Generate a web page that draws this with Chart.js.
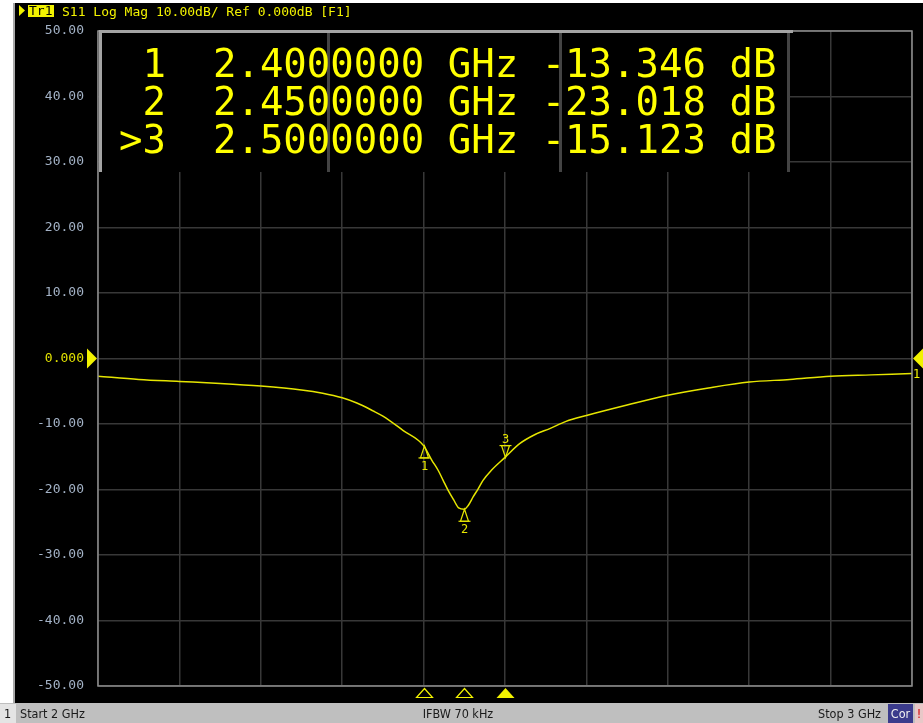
<!DOCTYPE html>
<html>
<head>
<meta charset="utf-8">
<script src="https://cdn.jsdelivr.net/npm/chart.js@4"></script>
<style>
  html, body { margin: 0; padding: 0; background: #fff; }
  canvas { display: block; }
</style>
</head>
<body>
<canvas id="vnaChart" width="923" height="723"></canvas>
<script>
// trace S11 (GHz / dB)
const freqGHz = [2.000, 2.050, 2.100, 2.150, 2.200, 2.250, 2.276, 2.300, 2.318, 2.338,
                 2.350, 2.375, 2.400, 2.410, 2.418, 2.424, 2.430, 2.437, 2.443, 2.450,
                 2.455, 2.461, 2.467, 2.473, 2.483, 2.500, 2.518, 2.537, 2.555, 2.575,
                 2.600, 2.650, 2.700, 2.750, 2.800, 2.850, 2.900, 2.950, 3.000];
const s11dB = [-2.7, -3.2, -3.5, -3.8, -4.2, -4.8, -5.3, -6.0, -6.8, -8.0,
               -8.8, -11.0, -13.3, -15.5, -17.1, -18.6, -20.1, -21.6, -22.8, -23.0,
               -22.4, -21.1, -19.9, -18.6, -17.1, -15.1, -13.0, -11.6, -10.7, -9.6,
               -8.7, -7.1, -5.6, -4.5, -3.6, -3.2, -2.7, -2.5, -2.3];

// markers
const markerNames = ['1', '2', '3'];
const markerFreq = [2.40, 2.45, 2.50];
const markerVal = [-13.346, -23.018, -15.123];
const activeMarker = 2;

// axis
const yMin = -50, yMax = 50, yStep = 10;
const xMin = 2, xMax = 3, xStep = 0.1;

const headerText = 'S11 Log Mag 10.00dB/ Ref 0.000dB [F1]';
const statusStart = 'Start 2 GHz';
const statusIfbw = 'IFBW 70 kHz';
const statusStop = 'Stop 3 GHz';

const YELLOW = '#f2f200';
const mono = '"DejaVu Sans Mono", monospace';

const ctx = document.getElementById('vnaChart').getContext('2d');

function tri(c, x1, y1, x2, y2, x3, y3, fill) {
    c.beginPath();
    c.moveTo(x1, y1); c.lineTo(x2, y2); c.lineTo(x3, y3); c.closePath();
    if (fill) c.fill(); else c.stroke();
}

const screenPlugin = {
    id: 'screen',
    beforeDraw(chart) {
        const c = chart.ctx;
        c.save();
        c.fillStyle = '#ffffff';
        c.fillRect(0, 0, 923, 723);
        c.fillStyle = '#000000';
        c.fillRect(15, 3, 908, 700);
        c.fillStyle = '#a8a8a8';
        c.fillRect(13, 3, 2, 700);

        // header
        c.fillStyle = YELLOW;
        tri(c, 19, 5, 25, 10.5, 19, 16, true);
        c.fillRect(28, 5, 26, 12);
        c.font = '13px ' + mono;
        c.textBaseline = 'alphabetic';
        c.fillStyle = '#000';
        c.fillText('Tr1', 29, 15);
        c.fillStyle = YELLOW;
        c.fillText(headerText, 62, 16);

        // status bar
        c.fillStyle = '#bfbfbf';
        c.fillRect(0, 703, 923, 20);
        c.fillStyle = '#e4e4e4';
        c.fillRect(0, 704, 16, 19);
        c.fillStyle = '#1a1a1a';
        c.font = '12.5px "DejaVu Sans Condensed", "DejaVu Sans", sans-serif';
        c.fillText('1', 4, 718);
        c.fillText(statusStart, 20, 718);
        c.textAlign = 'center';
        c.fillText(statusIfbw, 458, 718);
        c.textAlign = 'right';
        c.fillText(statusStop, 881, 718);
        c.fillStyle = '#3b3b8c';
        c.fillRect(888, 704, 25, 19);
        c.fillStyle = '#f0f0f0';
        c.textAlign = 'center';
        c.fillText('Cor', 900.5, 718);
        c.fillStyle = '#e8c8c8';
        c.fillRect(915, 704, 8, 19);
        c.fillStyle = '#d00000';
        c.fillText('!', 919, 718);
        c.restore();
    },
    afterDatasetsDraw(chart) {
        const c = chart.ctx;
        const xs = chart.scales.x, ys = chart.scales.y;
        const a = chart.chartArea;
        c.save();
        c.strokeStyle = '#e6e600';
        c.fillStyle = '#e6e600';
        c.lineWidth = 1.2;
        c.font = '12px ' + mono;
        c.textAlign = 'center';
        markerFreq.forEach((f, i) => {
            const px = Math.round(xs.getPixelForValue(f)) + 0.5;
            const py = ys.getPixelForValue(markerVal[i]);
            if (i === activeMarker) {
                tri(c, px, py, px - 4, py - 12, px + 4, py - 12, false);
                c.beginPath(); c.moveTo(px - 6, py - 12); c.lineTo(px + 6, py - 12); c.stroke();
                c.fillText(markerNames[i], px, py - 15);
            } else {
                tri(c, px, py, px - 4, py + 12, px + 4, py + 12, false);
                c.beginPath(); c.moveTo(px - 6, py + 12); c.lineTo(px + 6, py + 12); c.stroke();
                c.fillText(markerNames[i], px, py + 24);
            }
            // stimulus markers below the grid
            c.fillStyle = YELLOW;
            c.strokeStyle = YELLOW;
            if (i === activeMarker) tri(c, px, a.bottom + 2, px - 9, a.bottom + 12, px + 9, a.bottom + 12, true);
            else tri(c, px, a.bottom + 2.5, px - 8, a.bottom + 11.5, px + 8, a.bottom + 11.5, false);
            c.strokeStyle = '#e6e600';
            c.fillStyle = '#e6e600';
        });

        // reference level arrows
        const ry = ys.getPixelForValue(0);
        c.fillStyle = YELLOW;
        tri(c, a.left - 11, ry - 10, a.left - 1, ry, a.left - 11, ry + 10, true);
        tri(c, 923, ry - 10, 913, ry, 923, ry + 10, true);
        c.font = '12px ' + mono;
        c.textAlign = 'left';
        c.fillText('1', 913, ry + 19);
        c.restore();
    },
    afterDraw(chart) {
        const c = chart.ctx;
        const a = chart.chartArea;
        c.save();
        // grid frame
        c.strokeStyle = '#8c8c8c';
        c.lineWidth = 1.5;
        c.strokeRect(a.left, a.top, a.right - a.left, a.bottom - a.top);

        // marker table
        c.fillStyle = '#000';
        c.fillRect(100, 31, 690, 141);
        c.fillStyle = '#a4a4a4';
        c.fillRect(99, 30, 694, 3);
        c.fillRect(99, 30, 3, 142);
        c.fillStyle = '#444';
        [327, 559, 787].forEach(x => c.fillRect(x, 33, 3, 139));

        c.fillStyle = '#ffff00';
        c.font = '39px ' + mono;
        c.textBaseline = 'alphabetic';
        markerFreq.forEach((f, i) => {
            const lead = (i === activeMarker ? '>' : ' ') + markerNames[i];
            const row = lead + '  ' + f.toFixed(7) + ' GHz ' + markerVal[i].toFixed(3) + ' dB';
            c.fillText(row, 119, 77 + i * 38);
        });
        c.restore();
    }
};

const chart = new Chart(ctx, {
    type: 'line',
    data: {
        datasets: [{
            label: 'S11',
            data: freqGHz.map((f, i) => ({ x: f, y: s11dB[i] })),
            borderColor: '#e6e600',
            borderWidth: 1.5,
            pointRadius: 0,
            cubicInterpolationMode: 'monotone',
            fill: false
        }]
    },
    options: {
        responsive: false,
        animation: false,
        events: [],
        layout: { padding: { left: 17, top: 31, right: 11, bottom: 37 } },
        plugins: {
            legend: { display: false },
            tooltip: { enabled: false }
        },
        scales: {
            x: {
                type: 'linear',
                min: xMin,
                max: xMax,
                afterFit: s => { s.height = 0; },
                ticks: { display: false, stepSize: xStep },
                grid: { color: '#383838', lineWidth: 1.5, drawTicks: false },
                border: { display: false }
            },
            y: {
                min: yMin,
                max: yMax,
                afterFit: s => { s.width = 81; },
                ticks: {
                    stepSize: yStep,
                    padding: 14,
                    font: { family: 'DejaVu Sans Mono', size: 13 },
                    color: c => (c.tick && c.tick.value === 0 ? '#e0e000' : '#a3b2c6'),
                    callback: v => (v === 0 ? '0.000' : v.toFixed(2))
                },
                grid: { color: '#383838', lineWidth: 1.5, drawTicks: false },
                border: { display: false }
            }
        }
    },
    plugins: [screenPlugin]
});
</script>
</body>
</html>
